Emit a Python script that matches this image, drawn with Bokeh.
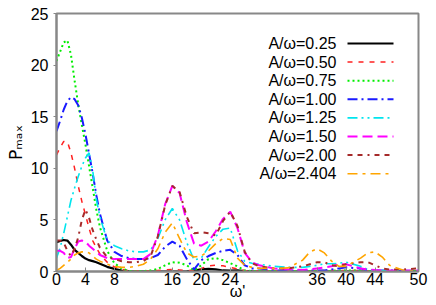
from bokeh.plotting import figure
from bokeh.models import Range1d, Label, Arrow, FixedTicker, ColumnDataSource
from bokeh.embed import file_html
from bokeh.resources import INLINE

omega = [0, 0.5, 1, 1.5, 2, 2.5, 3, 3.5, 4, 4.5, 5, 5.5, 6, 7, 8, 9, 10, 11, 12, 13,
         14, 15, 16, 17, 18, 19, 20, 21, 22, 23, 24, 25, 26, 27, 28, 30, 32, 34, 35, 36,
         37, 38, 39, 40, 42, 43, 44, 45, 46, 48, 50]

p_025 = [2.85, 2.95, 3.05, 3.0, 2.6, 2.1, 1.8, 1.5, 1.25, 1.1, 1.0, 0.9, 0.75, 0.45, 0.25, 0.08, 0.02, 0.0, 0.0, 0.0,
         0.0, 0.0, 0.0, 0.0, 0.02, 0.1, 0.2, 0.25, 0.2, 0.1, 0.08, 0.1, 0.05, 0.02, 0.0, 0.0, 0.0, 0.0, 0.0, 0.0,
         0.0, 0.0, 0.0, 0.0, 0.0, 0.0, 0.0, 0.0, 0.0, 0.0, 0.0]
p_050 = [11.3, 12.0, 12.6, 12.6, 11.5, 10.0, 8.3, 6.8, 5.5, 4.2, 3.0, 2.3, 1.7, 0.9, 0.45, 0.2, 0.08, 0.05, 0.05, 0.05,
         0.1, 0.15, 0.2, 0.15, 0.1, 0.1, 0.3, 0.55, 0.6, 0.55, 0.4, 0.25, 0.1, 0.05, 0.05, 0.05, 0.05, 0.05, 0.05, 0.1,
         0.1, 0.1, 0.1, 0.1, 0.1, 0.05, 0.05, 0.05, 0.05, 0.05, 0.05]
p_075 = [20.4, 21.3, 22.2, 22.4, 21.0, 18.5, 16.2, 14.2, 12.3, 10.2, 8.1, 6.0, 4.3, 2.0, 0.8, 0.3, 0.05, 0.03, 0.05, 0.1,
         0.25, 0.6, 0.9, 0.85, 0.6, 0.1, 0.6, 1.2, 1.3, 1.1, 0.8, 0.5, 0.1, 0.05, 0.05, 0.05, 0.05, 0.05, 0.05, 0.05,
         0.05, 0.05, 0.1, 0.1, 0.1, 0.05, 0.05, 0.05, 0.05, 0.05, 0.05]
p_100 = [13.6, 14.6, 15.7, 16.5, 16.9, 16.7, 16.1, 14.9, 13.3, 11.4, 9.5, 7.4, 5.6, 3.0, 1.9, 1.5, 1.3, 1.2, 1.2, 1.3,
         1.6, 2.4, 2.9, 2.5, 1.2, 0.2, 1.1, 1.5, 1.8, 2.0, 2.1, 1.6, 0.6, 0.3, 0.3, 0.1, 0.1, 0.1, 0.1, 0.1,
         0.1, 0.2, 0.3, 0.4, 0.3, 0.1, 0.1, 0.1, 0.1, 0.05, 0.05]
p_125 = [1.3, 2.3, 3.7, 5.3, 6.9, 8.1, 9.2, 10.2, 11.0, 11.5, 9.8, 7.0, 5.3, 3.0, 2.5, 2.2, 2.0, 1.9, 1.9, 2.1,
         3.2, 5.0, 6.1, 5.0, 2.8, 1.1, 1.3, 2.4, 3.4, 4.1, 4.2, 2.0, 1.0, 0.8, 0.7, 0.5, 0.4, 0.4, 0.5, 0.6,
         0.75, 0.75, 0.8, 0.9, 0.5, 0.2, 0.1, 0.1, 0.1, 0.1, 0.1]
p_150 = [2.0, 2.0, 1.8, 1.3, 1.4, 2.2, 2.9, 3.0, 2.9, 2.5, 2.2, 1.9, 1.6, 1.3, 1.2, 1.2, 1.2, 1.2, 1.2, 1.7,
         3.5, 6.5, 8.3, 7.6, 4.8, 2.7, 2.5, 2.9, 3.9, 5.1, 5.8, 4.2, 1.8, 0.9, 0.6, 0.3, 0.2, 0.15, 0.2, 0.3,
         0.4, 0.5, 0.7, 0.7, 0.3, 0.2, 0.15, 0.1, 0.1, 0.1, 0.1]
p_200 = [3.0, 3.0, 2.8, 2.0, 1.5, 2.2, 3.3, 5.0, 6.0, 5.2, 4.0, 3.1, 2.3, 1.4, 1.2, 1.0, 0.9, 0.9, 1.0, 1.5,
         3.4, 6.4, 8.3, 7.7, 5.3, 3.7, 3.8, 3.7, 3.5, 4.9, 5.8, 4.4, 1.9, 0.8, 0.5, 0.3, 0.3, 0.5, 0.7, 0.9,
         0.9, 0.6, 0.5, 0.7, 0.9, 0.9, 0.6, 0.3, 0.2, 0.2, 0.3]
p_2404 = [0.1, 0.3, 0.6, 0.9, 1.2, 1.6, 1.8, 1.9, 1.9, 1.8, 1.5, 1.2, 1.0, 0.7, 0.5, 0.4, 0.4, 0.5, 0.7, 1.2,
          2.2, 3.8, 4.7, 3.2, 1.8, 1.4, 1.5, 2.0, 2.7, 3.2, 3.1, 1.3, 0.6, 0.4, 0.3, 0.3, 0.35, 1.1, 1.9, 2.2,
          1.8, 1.0, 0.5, 0.5, 1.3, 1.8, 1.9, 1.4, 0.6, 0.1, 0.05]

labels = ["A/\u03c9=0.25", "A/\u03c9=0.50", "A/\u03c9=0.75", "A/\u03c9=1.00",
          "A/\u03c9=1.25", "A/\u03c9=1.50", "A/\u03c9=2.00", "A/\u03c9=2.404"]
x_ticks = [0, 4, 8, 16, 20, 24, 36, 40, 44, 50]
y_ticks = [0, 5, 10, 15, 20, 25]

styles = [
    dict(color="#000000", width=2.2, dash="solid"),
    dict(color="#ff2020", width=1.5, dash="5 6"),
    dict(color="#00ee00", width=2.0, dash="2 3"),
    dict(color="#1a1aff", width=2.0, dash="10 4 2 4"),
    dict(color="#00e5ee", width=1.6, dash="10 4 2 4 2 4"),
    dict(color="#ff00ff", width=2.0, dash="10 5"),
    dict(color="#a52a2a", width=2.0, dash="5 5 5 5 2 5"),
    dict(color="#ffa500", width=1.6, dash="10 5 3 5"),
]

FONT = "Liberation Sans"

p = figure(frame_width=362, frame_height=258, output_backend="svg", toolbar_location=None,
           x_range=Range1d(0, 50), y_range=Range1d(0, 25),
           min_border_left=56, min_border_right=10, min_border_top=13, min_border_bottom=30)
p.grid.visible = False
p.outline_line_color = "#888888"
p.outline_line_width = 2
p.background_fill_color = "white"
p.border_fill_color = "white"

for ax in (p.xaxis[0], p.yaxis[0]):
    ax.axis_line_color = "#888888"
    ax.axis_line_width = 2
    ax.major_tick_line_color = "#888888"
    ax.minor_tick_line_color = None
    ax.major_label_text_font = FONT
    ax.major_label_text_font_size = "16px"
    ax.major_label_text_color = "black"
    ax.axis_label_text_font = FONT
    ax.axis_label_text_font_style = "normal"
    ax.axis_label_text_color = "black"

p.xaxis.ticker = FixedTicker(ticks=x_ticks)
p.yaxis.ticker = FixedTicker(ticks=y_ticks)
p.xaxis.major_tick_in = 4
p.xaxis.major_tick_out = 0
p.xaxis.major_label_standoff = 1
p.xaxis.axis_label = "\u03c9'"
p.xaxis.axis_label_text_font_size = "16px"
p.xaxis.axis_label_standoff = -5
p.yaxis.major_tick_in = 0
p.yaxis.major_tick_out = 3
p.yaxis.major_label_standoff = 5
p.yaxis.axis_label = "P\u2098\u2090\u2093"
p.yaxis.axis_label_text_font = "DejaVu Sans"
p.yaxis.axis_label_text_font_size = "17px"
p.yaxis.axis_label_standoff = 2

src = ColumnDataSource(dict(omega=omega, p_025=p_025, p_050=p_050, p_075=p_075, p_100=p_100,
                            p_125=p_125, p_150=p_150, p_200=p_200, p_2404=p_2404))
names = ["p_025", "p_050", "p_075", "p_100", "p_125", "p_150", "p_200", "p_2404"]
for name, st in zip(names, styles):
    p.line("omega", name, source=src, line_color=st["color"], line_width=st["width"],
           line_dash=st["dash"])

# manual legend (label left of sample), frame-relative screen units
for i, (lab, st) in enumerate(zip(labels, styles)):
    yy = 228 - 18.6 * i
    p.add_layout(Label(x=280, y=yy, x_units="screen", y_units="screen", text=lab,
                       text_align="right", text_baseline="middle", text_font=FONT,
                       text_font_size="16px", text_color="black"))
    p.add_layout(Arrow(end=None, x_start=291, y_start=yy, x_end=337, y_end=yy,
                       start_units="screen", end_units="screen", line_color=st["color"],
                       line_width=st["width"], line_dash=st["dash"]))

open("out.html", "w").write(file_html(p, INLINE))
